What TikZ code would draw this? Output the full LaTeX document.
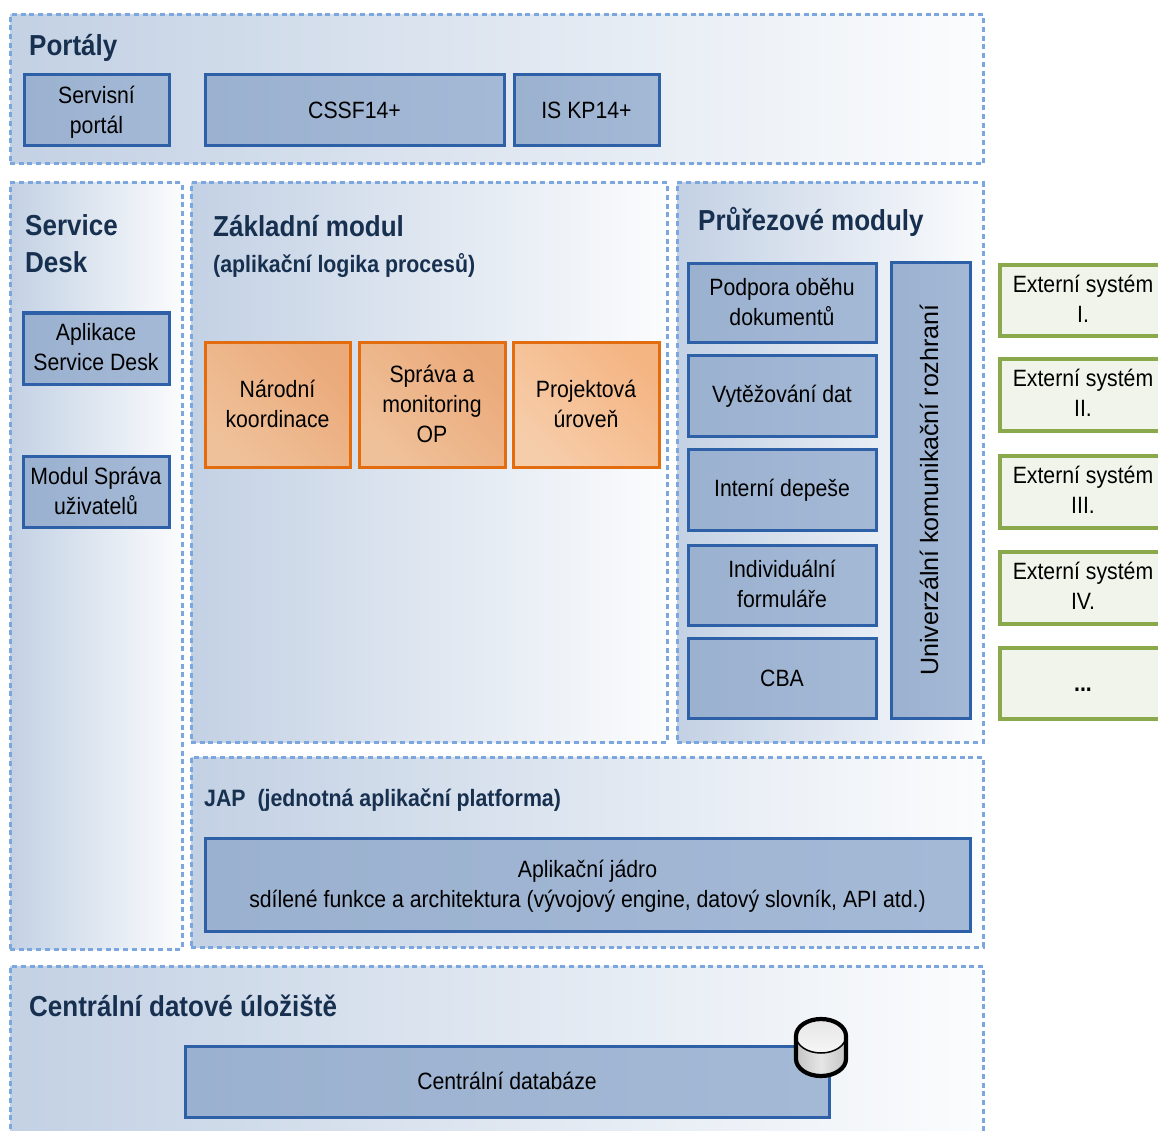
\documentclass[tikz,border=0pt]{standalone}
\usepackage{fontspec}
\setmainfont[FakeStretch=0.9]{Liberation Sans}
\newfontfamily\plainfont{Liberation Sans}
\usetikzlibrary{shadings}
\definecolor{panelL}{HTML}{C3D1E4}
\definecolor{panelR}{HTML}{FBFCFD}
\definecolor{dashC}{HTML}{7BA6DE}
\definecolor{blueB}{HTML}{2E60A8}
\definecolor{blueL}{HTML}{9AB1CF}
\definecolor{blueR}{HTML}{A4B9D6}
\definecolor{orangeB}{HTML}{E36C0E}
\definecolor{greenB}{HTML}{8AA84C}
\definecolor{greenF}{HTML}{F1F4EA}
\definecolor{titleC}{HTML}{17304F}
\definecolor{orange2}{HTML}{EBAA7A}
\definecolor{orange3}{HTML}{F5B583}
\definecolor{orangeA}{HTML}{EFC19A}
\definecolor{orangeC}{HTML}{F6CDAA}
\definecolor{cylA}{HTML}{C4C4C4}
\definecolor{cylB}{HTML}{E6E6E6}
\definecolor{cylC}{HTML}{F6F6F6}
\tikzset{
  panelbox/.style={left color=panelL,right color=panelR,draw=dashC,line width=3pt,dash pattern=on 5pt off 3.7pt},
  bluebox/.style={left color=blueL,right color=blueR,draw=blueB,line width=3pt},
  orangeone/.style={bottom color=orangeA,top color=orange2,shading angle=-45,draw=orangeB,line width=3pt},
  orangetwo/.style={bottom color=orangeC,top color=orange3,shading angle=-45,draw=orangeB,line width=3pt},
  greenbox/.style={fill=greenF,draw=greenB,line width=3.2pt},
  labeltext/.style={font=\fontsize{23.6}{30}\selectfont,align=center,text=black,inner sep=0pt},
  titletext/.style={font=\fontsize{28.9}{37.5}\selectfont\bfseries,text=titleC,anchor=west,align=left,inner sep=0pt},
  subtext/.style={font=\fontsize{23.7}{30}\selectfont\bfseries,text=titleC,anchor=west,inner sep=0pt},
}
% name, style, x1, y1, x2, y2, text offset, text
\newcommand{\bx}[8]{%
  \pgfmathsetmacro{\bxw}{#5-#3}\pgfmathsetmacro{\bxh}{#6-#4}%
  \node[#2,inner sep=0pt,minimum width=\bxw pt,minimum height=\bxh pt] (#1) at ({(#3+#5)/2},{(#4+#6)/2}) {};
  \node[labeltext] (#1-t) at ({(#3+#5)/2},{(#4+#6)/2+#7}) {#8};}
\newcommand{\pn}[6]{%
  \pgfmathsetmacro{\bxw}{#5-#3}\pgfmathsetmacro{\bxh}{#6-#4}%
  \node[#2,inner sep=0pt,minimum width=\bxw pt,minimum height=\bxh pt] (#1) at ({(#3+#5)/2},{(#4+#6)/2}) {};}
\begin{document}
\begin{tikzpicture}[x=1pt,y=-1pt]
\useasboundingbox (0,0) rectangle (1158,1131);
\clip (0,0) rectangle (1158,1131);
% panels
\pn{pPortaly}{panelbox}{10}{15}{983}{164}
\pn{pDesk}{panelbox}{10}{183}{182}{949}
\pn{pZaklad}{panelbox}{191}{183}{667}{742}
\pn{pPrurez}{panelbox}{677}{183}{983}{742}
\pn{pJap}{panelbox}{191}{757}{983}{947}
\pn{pCentral}{panelbox}{10}{966}{983}{1150}
% titles
\node[titletext] (tPortaly) at (29,48) {Portály};
\node[titletext] (tDesk) at (25,243.5) {Service\\Desk};
\node[titletext] (tZaklad) at (213,226) {Základní modul};
\node[subtext] (tZaklad2) at (213,265) {(aplikační logika procesů)};
\node[titletext] (tPrurez) at (698,222) {Průřezové moduly};
\node[subtext] (tJap) at (204,800) {JAP\ \ (jednotná aplikační platforma)};
\node[titletext] (tCentral) at (29,1006) {Centrální datové úložiště};
% portals
\bx{servis}{bluebox}{24}{75}{169}{146}{2}{Servisní\\portál}
\bx{cssf}{bluebox}{205}{75}{504}{146}{0}{CSSF14+}
\bx{iskp}{bluebox}{514}{75}{659}{146}{0}{IS KP14+}
% service desk
\bx{apl}{bluebox}{23}{313}{169}{384}{-1}{Aplikace\\Service Desk}
\bx{modul}{bluebox}{23}{456}{169}{527}{-1}{Modul Správa\\uživatelů}
% orange
\bx{narodni}{orangeone}{205}{342}{350}{467}{-1}{Národní\\koordinace}
\bx{sprava}{orangeone}{359}{342}{505}{467}{-1}{Správa a\\monitoring\\OP}
\bx{projekt}{orangetwo}{513}{342}{659}{467}{-1}{Projektová\\úroveň}
% cross modules
\bx{podpora}{bluebox}{688}{264}{876}{342}{-1}{Podpora oběhu\\dokumentů}
\bx{vytez}{bluebox}{688}{355}{876}{436}{1}{Vytěžování dat}
\bx{depese}{bluebox}{688}{449}{876}{530}{1}{Interní depeše}
\bx{indiv}{bluebox}{688}{545}{876}{625}{-1}{Individuální\\formuláře}
\bx{cba}{bluebox}{688}{638}{876}{718}{0}{CBA}
\pn{univ}{bluebox}{891}{263}{970}{718}
\node[labeltext,font=\plainfont\fontsize{25}{30}\selectfont,rotate=90] (univT) at (929,490) {Univerzální komunikační rozhraní};
% core
\bx{jadro}{bluebox}{205}{838}{970}{931}{2}{Aplikační jádro\\sdílené funkce a architektura (vývojový engine, datový slovník, API atd.)}
\bx{cdb}{bluebox}{185}{1046}{829}{1117}{-1}{Centrální databáze}
% external
\bx{ext1}{greenbox}{1000}{265}{1166}{336}{-2}{Externí systém\\I.}
\bx{ext2}{greenbox}{1000}{359}{1166}{431}{-2}{Externí systém\\II.}
\bx{ext3}{greenbox}{1000}{456}{1166}{528}{-2}{Externí systém\\III.}
\bx{ext4}{greenbox}{1000}{552}{1166}{624}{-2}{Externí systém\\IV.}
\bx{ext5}{greenbox}{1000}{648}{1166}{719}{6}{\textbf{...}}
% cylinder
\path[left color=cylA,right color=cylA,middle color=cylB] (796,1036) -- (796,1059) arc[start angle=180,end angle=0,x radius=25,y radius=17] -- (846,1036) -- cycle;
\path[top color=cylB,bottom color=cylC] (821,1036) ellipse[x radius=25,y radius=17];
\draw[black,line width=1.5pt] (796,1036) arc[start angle=180,end angle=0,x radius=25,y radius=17];
\draw[black,line width=4.2pt] (796,1036) arc[start angle=180,end angle=360,x radius=25,y radius=17] -- (846,1059) arc[start angle=0,end angle=180,x radius=25,y radius=17] -- cycle;
\end{tikzpicture}
\end{document}
